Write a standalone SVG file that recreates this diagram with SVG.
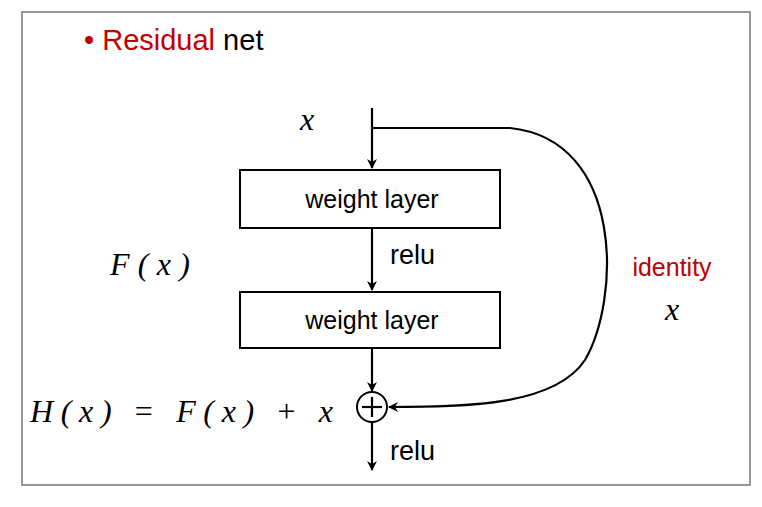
<svg xmlns="http://www.w3.org/2000/svg" width="762" height="507" viewBox="0 0 762 507">
<defs>
<marker id="ah" markerWidth="10" markerHeight="10" refX="9" refY="5" orient="auto" markerUnits="userSpaceOnUse"><path d="M0,0 L10,5 L0,10 L3,5 Z" fill="#000"/></marker>
<style>
.box{fill:#fff;stroke:#000;stroke-width:2}
.ln{fill:none;stroke:#000;stroke-width:2.2}
.s{font-family:"Liberation Sans",Arial,sans-serif;fill:#000}
.m{font-family:"Liberation Serif","DejaVu Serif",serif;font-style:italic;fill:#000;font-size:32px}
.red{fill:#c00000}
</style>
</defs>
<rect width="762" height="507" fill="#fff"/>
<rect x="22" y="12" width="728" height="473" fill="none" stroke="#777" stroke-width="1.5"/>
<text class="s" x="84" y="50" font-size="29"><tspan class="red">• Residual</tspan> net</text>
<g id="connectors">
<line class="ln" x1="372" y1="108" x2="372" y2="168" marker-end="url(#ah)"/>
<line class="ln" x1="372" y1="228" x2="372" y2="290" marker-end="url(#ah)"/>
<line class="ln" x1="372" y1="348" x2="372" y2="391" marker-end="url(#ah)"/>
<line class="ln" x1="372" y1="422" x2="372" y2="470" marker-end="url(#ah)"/>
<path class="ln" d="M372,128 L510,128 C625,140 620,300 585,360 C555,405 470,407 389,407" marker-end="url(#ah)"/>
</g>
<g id="x_in"><text class="m" x="300" y="130">x</text></g>
<g id="w1"><rect class="box" x="240" y="170" width="260" height="58"/><text class="s" x="372" y="208" font-size="25" text-anchor="middle">weight layer</text></g>
<g id="relu1"><text class="s" x="390" y="264" font-size="27">relu</text></g>
<g id="w2"><rect class="box" x="240" y="292" width="260" height="56"/><text class="s" x="372" y="329" font-size="25" text-anchor="middle">weight layer</text></g>
<g id="plus"><circle cx="372" cy="407" r="15" fill="#fff" stroke="#000" stroke-width="2"/><line class="ln" x1="362" y1="407" x2="382" y2="407"/><line class="ln" x1="372" y1="397" x2="372" y2="417"/></g>
<g id="relu2"><text class="s" x="390" y="460" font-size="27">relu</text></g>
<g id="Fx"><text class="m" x="110" y="275" textLength="80" lengthAdjust="spacing">F(x)</text></g>
<g id="identity"><text class="s red" x="672" y="276" font-size="25" text-anchor="middle">identity</text><text class="m" x="672" y="320" text-anchor="middle">x</text></g>
<g id="Hx"><text class="m" x="30" y="422" textLength="303" lengthAdjust="spacing">H(x) <tspan font-style="normal">=</tspan> F(x) <tspan font-style="normal">+</tspan> x</text></g>
</svg>
